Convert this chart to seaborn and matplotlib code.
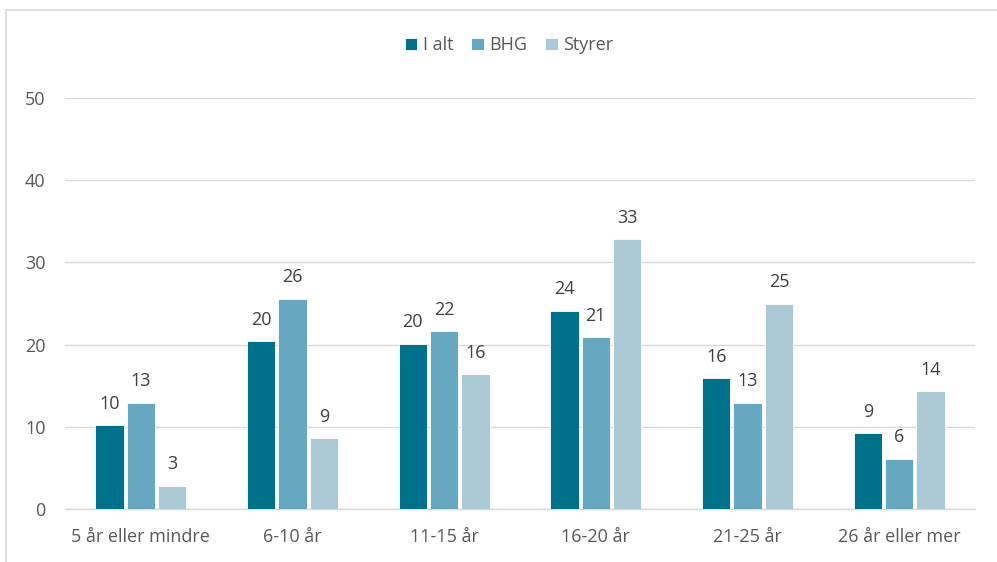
import seaborn as sns
import matplotlib.pyplot as plt
import pandas as pd
from matplotlib.patches import Rectangle

# data
categories = ["5 år eller mindre", "6-10 år", "11-15 år", "16-20 år", "21-25 år", "26 år eller mer"]
series = ["I alt", "BHG", "Styrer"]
i_alt = [10.2, 20.4, 20.1, 24.1, 15.9, 9.2]
bhg = [12.9, 25.6, 21.6, 20.9, 12.9, 6.1]
styrer = [2.8, 8.6, 16.4, 32.8, 25.0, 14.3]
colors = ["#00718B", "#67A8C1", "#ABCAD6"]

df = pd.DataFrame({
    "kategori": categories * 3,
    "serie": [s for s in series for _ in categories],
    "verdi": i_alt + bhg + styrer,
})

sns.set_style("white")
plt.rcParams['font.family'] = ['Open Sans', 'DejaVu Sans']
text_col = "#595959"
fs = 13

fig = plt.figure(figsize=(9.97, 5.62), dpi=100)
ax = fig.add_axes([0.0652, 0.0943, 0.9128, 0.7313])

sns.barplot(data=df, x="kategori", y="verdi", hue="serie", palette=colors,
            width=0.62, gap=0.1, edgecolor="white", linewidth=0.6,
            saturation=1, ax=ax, zorder=3)

# value labels
for cont in ax.containers:
    ax.bar_label(cont, labels=[f"{round(b.get_height())}" for b in cont],
                 padding=9, fontsize=fs, color="#404040")

ax.set_ylim(0, 50)
ax.set_yticks(range(0, 51, 10))
ax.set_xlim(-0.5, 5.5)
ax.grid(axis="y", color="#D9D9D9", lw=1, zorder=0)
for s in ["top", "right", "left"]:
    ax.spines[s].set_visible(False)
ax.spines["bottom"].set_color("#D9D9D9")
ax.spines["bottom"].set_linewidth(1)
ax.tick_params(axis="both", length=0, labelsize=fs, colors=text_col)
ax.tick_params(axis="y", pad=14)
ax.tick_params(axis="x", pad=14)
ax.set_xlabel("")
ax.set_ylabel("")

ax.legend(loc="upper center", bbox_to_anchor=(0.488, 1.19), ncol=3, frameon=False,
          fontsize=fs, handlelength=0.7, handleheight=0.7, handletextpad=0.3,
          columnspacing=1.0, labelcolor=text_col)

# outer frame like the source chart
fig.patches.append(Rectangle((6 / 997, -0.1), 1.2, 1 - 9.5 / 562 + 0.1,
                             transform=fig.transFigure, fill=False,
                             edgecolor="#D9D9D9", lw=1.2))

fig.savefig("out.png", dpi=100)
